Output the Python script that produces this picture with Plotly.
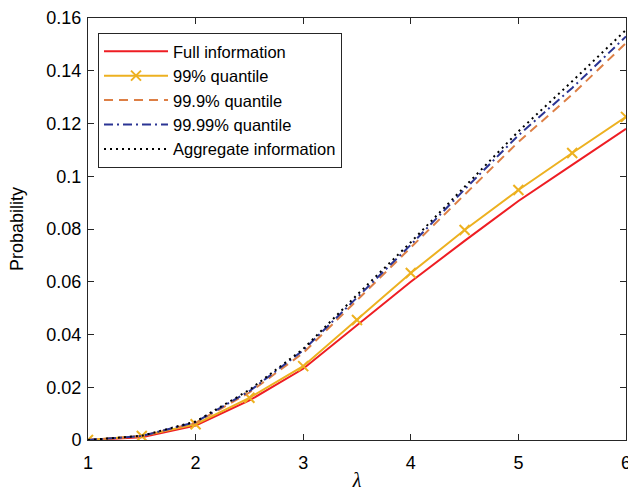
import plotly.graph_objects as go

lam = [1, 1.5, 2, 2.5, 3, 3.5, 4, 4.5, 5, 5.5, 6]
full_info = [0, 0.001, 0.0055, 0.015, 0.027, 0.0436, 0.060, 0.0755, 0.0906, 0.1043, 0.118]
q99 = [0, 0.0015, 0.006, 0.016, 0.028, 0.0455, 0.0633, 0.0796, 0.0948, 0.1088, 0.1225]
q999 = [0, 0.0015, 0.0065, 0.018, 0.033, 0.053, 0.073, 0.093, 0.113, 0.131, 0.1505]
q9999 = [0, 0.0015, 0.0068, 0.0185, 0.034, 0.054, 0.074, 0.095, 0.1155, 0.1335, 0.153]
aggregate = [0, 0.0016, 0.007, 0.019, 0.0345, 0.055, 0.075, 0.096, 0.117, 0.136, 0.1555]

x_ticks = [1, 2, 3, 4, 5, 6]
y_ticks = [0, 0.02, 0.04, 0.06, 0.08, 0.1, 0.12, 0.14, 0.16]
y_tick_text = ["0", "0.02", "0.04", "0.06", "0.08", "0.1", "0.12", "0.14", "0.16"]

FONT = "Liberation Sans, Arial"

fig = go.Figure()
fig.add_trace(go.Scatter(x=lam, y=full_info, mode="lines", name="Full information",
                         line=dict(color="#EE1D23", width=2)))
fig.add_trace(go.Scatter(x=lam, y=q99, mode="lines+markers", name="99% quantile",
                         line=dict(color="#EDB120", width=2),
                         marker=dict(symbol="x-thin-open", size=10,
                                     line=dict(color="#EDB120", width=2))))
fig.add_trace(go.Scatter(x=lam, y=q999, mode="lines", name="99.9% quantile",
                         line=dict(color="#DD7F45", width=2, dash="9px,6px")))
fig.add_trace(go.Scatter(x=lam, y=q9999, mode="lines", name="99.99% quantile",
                         line=dict(color="#2B3494", width=2, dash="9px,4px,2px,4px")))
fig.add_trace(go.Scatter(x=lam, y=aggregate, mode="lines", name="Aggregate information",
                         line=dict(color="#000000", width=2, dash="2px,4px")))

axis_common = dict(showline=True, linecolor="#262626", linewidth=1, mirror="ticks",
                   ticks="inside", ticklen=6, tickcolor="#262626", showgrid=False,
                   zeroline=False, ticklabeloverflow="allow",
                   tickfont=dict(family=FONT, size=18, color="#000"))

fig.update_xaxes(range=[1, 6], tickvals=x_ticks, ticktext=[str(v) for v in x_ticks],
                 ticklabelstandoff=6,
                 title=dict(text="<i>λ</i>", font=dict(family="Liberation Serif", size=20, color="#000"),
                            standoff=14),
                 **axis_common)
fig.update_yaxes(range=[0, 0.16], tickvals=y_ticks, ticktext=y_tick_text,
                 ticklabelstandoff=2,
                 title=dict(text="Probability", font=dict(family=FONT, size=18, color="#000"),
                            standoff=18),
                 **axis_common)

fig.update_layout(
    width=628, height=491,
    margin=dict(l=88, r=2, t=18, b=51, autoexpand=False),
    plot_bgcolor="white", paper_bgcolor="white",
    legend=dict(x=0.0186, y=0.9645, xanchor="left", yanchor="top",
                bordercolor="#262626", borderwidth=1, bgcolor="white",
                font=dict(family=FONT, size=16.5, color="#000"),
                tracegroupgap=0, itemwidth=64),
    showlegend=True,
)

fig.write_html("out.html")
